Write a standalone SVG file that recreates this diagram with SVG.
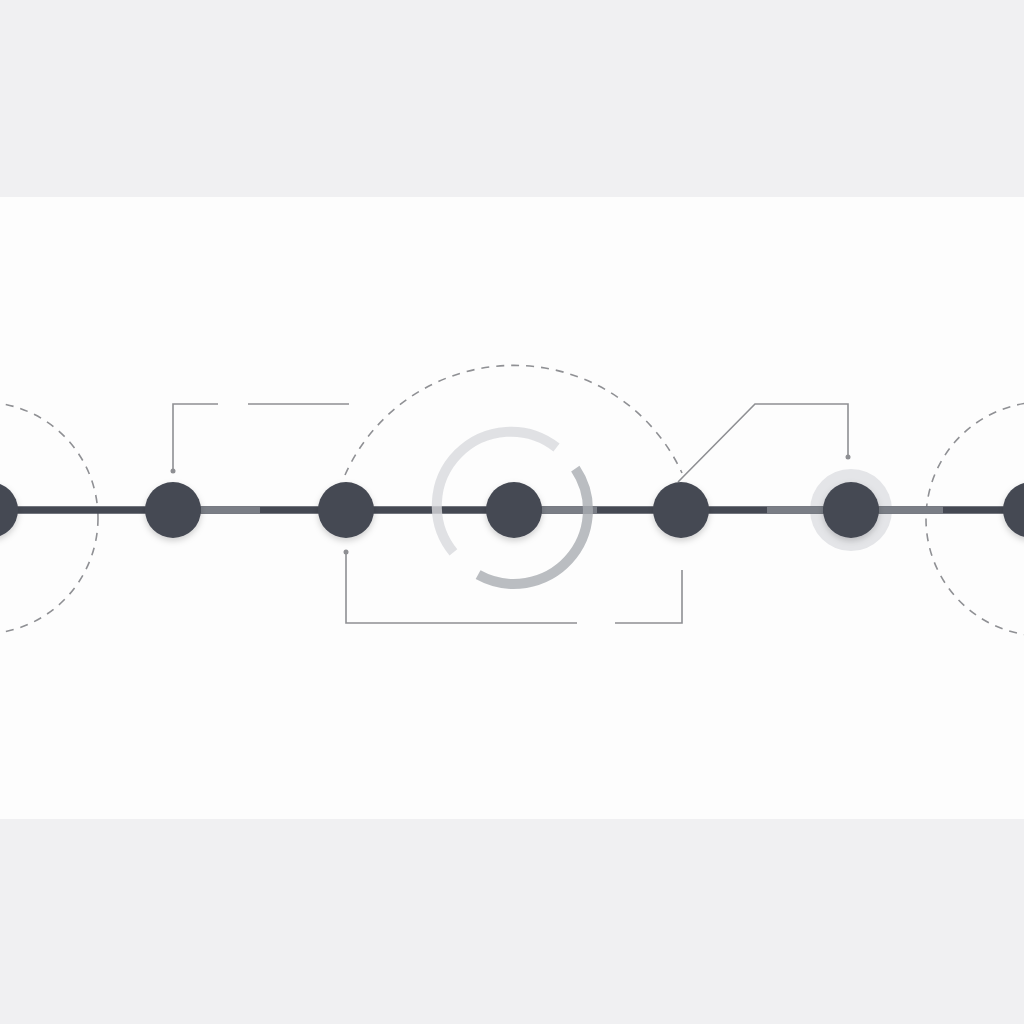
<svg xmlns="http://www.w3.org/2000/svg" width="1024" height="1024" viewBox="0 0 1024 1024">
  <defs>
    <filter id="sh" x="-50%" y="-50%" width="200%" height="200%">
      <feDropShadow dx="0" dy="3" stdDeviation="3" flood-color="#000" flood-opacity="0.18"/>
    </filter>
    <style>
      .node { fill: #454953; filter: url(#sh); }
      .dash { fill: none; stroke: #8f9094; stroke-width: 1.6; stroke-dasharray: 8 7; }
      .bracket { fill: none; stroke: #8e8f93; stroke-width: 1.6; }
      .dot { fill: #8e8f93; }
      .main { stroke: #454953; stroke-width: 7.5; }
      .lite { stroke: #7a7e86; stroke-width: 7.5; }
    </style>
  </defs>
  <rect width="1024" height="1024" fill="#fdfdfd"/>
  <rect x="0" y="0" width="1024" height="197" fill="#f0f0f2"/>
  <rect x="0" y="819" width="1024" height="205" fill="#f0f0f2"/>

  <g id="node5-halo"><circle cx="851" cy="510" r="41" fill="#e4e5e8"/></g>

  <g id="connectors">
    <circle class="dash" cx="-18" cy="518" r="116"/>
    <circle class="dash" cx="1043" cy="519" r="117"/>
    <path class="dash" d="M345,475 A185,185 0 0 1 682,473"/>

    <path class="bracket" d="M173,471 V404 H218 M248,404 H349"/>
    <circle class="dot" cx="173" cy="471" r="2.5"/>
    <path class="bracket" d="M346,552 V623 H577 M615,623 H682 V570"/>
    <circle class="dot" cx="346" cy="552" r="2.5"/>
    <path class="bracket" d="M678,482 L755,404 H848 V457"/>
    <circle class="dot" cx="848" cy="457" r="2.5"/>

    <line class="main" x1="-10" y1="510" x2="1031" y2="510"/>
    <line class="lite" x1="201" y1="510" x2="260" y2="510"/>
    <line class="lite" x1="542" y1="510" x2="597" y2="510"/>
    <line class="lite" x1="767" y1="510" x2="823" y2="510"/>
    <line class="lite" x1="879" y1="510" x2="943" y2="510"/>

    <path d="M453.4,552.4 A74,74 0 0 1 556.5,447.5" fill="none" stroke="#d8dadd" stroke-width="10" opacity="0.8"/>
    <path d="M575.3,468.6 A74,74 0 0 1 478.1,574.7" fill="none" stroke="#a9acb2" stroke-width="10" opacity="0.8"/>
  </g>

  <g id="node0"><circle class="node" cx="-10" cy="510" r="28"/></g>
  <g id="node1"><circle class="node" cx="173" cy="510" r="28"/></g>
  <g id="node2"><circle class="node" cx="346" cy="510" r="28"/></g>
  <g id="node3"><circle class="node" cx="514" cy="510" r="28"/></g>
  <g id="node4"><circle class="node" cx="681" cy="510" r="28"/></g>
  <g id="node5"><circle class="node" cx="851" cy="510" r="28"/></g>
  <g id="node6"><circle class="node" cx="1031" cy="510" r="28"/></g>
</svg>
